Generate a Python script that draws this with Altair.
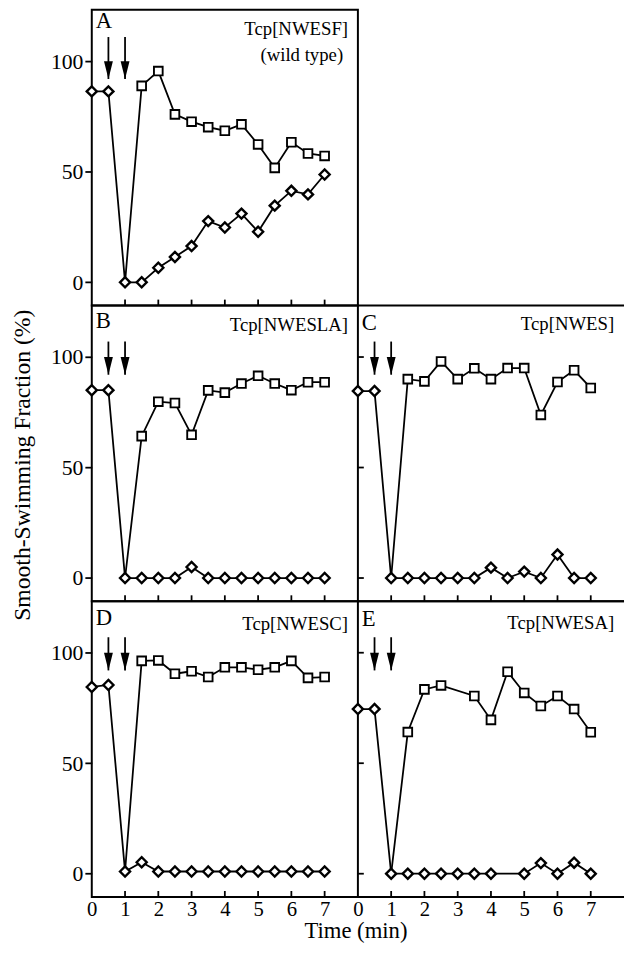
import altair as alt
import pandas as pd

FONT = "Liberation Serif"

# ---- data ----
times = [0, 0.5, 1.0, 1.5, 2.0, 2.5, 3.0, 3.5, 4.0, 4.5, 5.0, 5.5, 6.0, 6.5, 7.0]
sq_times = [1.5, 2.0, 2.5, 3.0, 3.5, 4.0, 4.5, 5.0, 5.5, 6.0, 6.5, 7.0]
arrow_times = [0.5, 1.0]
x_tick_values = [1, 2, 3, 4, 5, 6, 7]
x_label_values = [0, 1, 2, 3, 4, 5, 6, 7]
y_tick_values = [0, 50, 100]

panel_ids = ["A", "B", "C", "D", "E"]
panel_names = ["Tcp[NWESF]", "Tcp[NWESLA]", "Tcp[NWES]", "Tcp[NWESC]", "Tcp[NWESA]"]
subtitle_A = "(wild type)"

dia_A = [86.4, 86.4, 0, 0, 6.6, 11.5, 16.4, 27.7, 24.8, 31.1, 22.9, 34.7, 41.4, 39.8, 48.8]
sq_A = [88.9, 95.6, 76.0, 72.7, 70.2, 68.6, 71.5, 62.4, 51.8, 63.4, 58.3, 57.2]

dia_B = [85.0, 85.0, 0, 0, 0, 0, 5.0, 0, 0, 0, 0, 0, 0, 0, 0]
sq_B = [64.2, 79.8, 79.2, 64.8, 84.9, 83.9, 88.0, 91.5, 88.0, 85.0, 88.6, 88.6]

dia_C = [84.6, 84.6, 0, 0, 0, 0, 0, 0, 4.7, 0, 2.9, 0, 10.6, 0, 0]
sq_C = [90.0, 89.0, 98.0, 90.0, 94.9, 90.0, 95.0, 95.0, 73.8, 88.7, 94.0, 86.0]

dia_D = [84.5, 85.4, 1.0, 5.2, 1.0, 1.0, 1.0, 1.0, 1.0, 1.0, 1.0, 1.0, 1.0, 1.0, 1.0]
sq_D = [96.3, 96.5, 90.5, 91.6, 89.0, 93.4, 93.4, 92.3, 93.4, 96.3, 88.6, 89.0]

dia_E = [74.5, 74.5, 0, 0, 0, 0, 0, 0, 0, None, 0, 4.8, 0, 5.0, 0]
sq_E = [64.1, 83.4, 85.2, None, 80.4, 69.6, 91.4, 81.8, 75.9, 80.4, 74.5, 64.0]

arrow_top = [111, 107, 107, 107, 107]
arrow_tip = 92

Y_DOMAIN = [-10.5, 123.3]
X_DOMAIN = [0, 8]
H = 300
W = 270

ARROW_HEAD = "M-0.5,-2 L0.5,-2 L0,0 Z"

one = pd.DataFrame({"a": [0]})


def label(text, x, y, size, align="left", baseline="middle", angle=0):
    kw = dict(text=text, font=FONT, fontSize=size, align=align, baseline=baseline,
              color="black", fontWeight="normal")
    if angle:
        kw["angle"] = angle
    return alt.Chart(one).mark_text(**kw).encode(x=alt.value(x), y=alt.value(y))


def panel(idx, dia, sq, left_col, bottom_row, letter_y, name_y, extra=None):
    pid = panel_ids[idx]
    name = panel_names[idx]
    xs = alt.Scale(domain=X_DOMAIN, nice=False, zero=False)
    ys = alt.Scale(domain=Y_DOMAIN, nice=False, zero=False)

    if bottom_row:
        xaxis = alt.Axis(values=x_label_values, ticks=False, domain=False, grid=False,
                         labels=True, labelFont=FONT, labelFontSize=21, labelColor="black",
                         labelPadding=2, labelFlush=False, title=None)
    else:
        xaxis = None
    if left_col:
        yaxis = alt.Axis(values=y_tick_values, tickSize=7, tickWidth=1.8, tickColor="black",
                         domain=False, grid=False, labelFont=FONT, labelFontSize=22,
                         labelColor="black", labelPadding=2, title=None)
    else:
        yaxis = None

    def X(f):
        return alt.X(f, type="quantitative", scale=xs, axis=xaxis)

    def Y(f):
        return alt.Y(f, type="quantitative", scale=ys, axis=yaxis)

    dia_df = pd.DataFrame({"t": times, "v": dia}).dropna()
    sq_df = pd.DataFrame({"t": sq_times, "v": sq}).dropna()
    sq_line_df = pd.concat([pd.DataFrame({"t": [times[2]], "v": [dia[2]]}), sq_df])

    base_line = dict(color="black", strokeWidth=1.8)
    layers = [
        alt.Chart(dia_df).mark_line(**base_line).encode(x=X("t"), y=Y("v")),
        alt.Chart(sq_line_df).mark_line(**base_line).encode(x=X("t"), y=Y("v")),
        alt.Chart(sq_df).mark_point(shape="square", filled=True, fill="white", stroke="black",
                                    strokeWidth=1.9, size=78, opacity=1).encode(x=X("t"), y=Y("v")),
        alt.Chart(dia_df).mark_point(shape="diamond", filled=True, fill="white", stroke="black",
                                     strokeWidth=2.4, size=105, opacity=1).encode(x=X("t"), y=Y("v")),
    ]

    arr_df = pd.DataFrame({"t": arrow_times, "top": [arrow_top[idx]] * 2, "tip": [arrow_tip] * 2})
    layers.append(alt.Chart(arr_df).mark_rule(color="black", strokeWidth=1.8).encode(
        x=X("t"), y=Y("top"), y2=alt.Y2("tip")))
    layers.append(alt.Chart(arr_df).mark_point(shape=ARROW_HEAD, filled=True, color="black",
                                               size=324, opacity=1).encode(x=X("t"), y=Y("tip")))

    # inward x ticks at the bottom of each panel
    xt_df = pd.DataFrame({"t": x_tick_values})
    layers.append(alt.Chart(xt_df).mark_rule(color="black", strokeWidth=1.8).encode(
        x=X("t"), y=alt.value(H), y2=alt.value(H - 6)))

    if not left_col:
        yt_df = pd.DataFrame({"v": y_tick_values})
        layers.append(alt.Chart(yt_df).mark_rule(color="black", strokeWidth=1.8).encode(
            y=Y("v"), x=alt.value(0), x2=alt.value(6)))
        for yy in (0, H):
            layers.append(alt.Chart(one).mark_rule(color="black", strokeWidth=2).encode(
                x=alt.value(0), x2=alt.value(W), y=alt.value(yy)))

    layers.append(label(pid, 4, letter_y, 23))
    layers.append(label(name, W - 10, name_y, 19, align="right"))
    if extra:
        layers.extend(extra)

    view = alt.ViewBackground(stroke="black", strokeWidth=2) if left_col else \
        alt.ViewBackground(stroke="transparent", strokeWidth=0)
    return alt.layer(*layers).properties(width=W, height=H, view=view)


extra_A = [label(subtitle_A, W - 15, 46, 19, align="right")]
extra_B = [label("Smooth-Swimming Fraction (%)", -70, 162, 24, align="center", angle=270)]
extra_D = [label("Time (min)", W - 2, H + 42, 23, align="center", baseline="alphabetic")]

pA = panel(0, dia_A, sq_A, True, False, 11, 20, extra_A)
pB = panel(1, dia_B, sq_B, True, False, 16, 20, extra_B)
pC = panel(2, dia_C, sq_C, False, False, 18, 19)
pD = panel(3, dia_D, sq_D, True, True, 17, 23, extra_D)
pE = panel(4, dia_E, sq_E, False, True, 18, 22)

blank = alt.Chart(one).mark_point(opacity=0, size=1).encode(
    x=alt.value(10), y=alt.value(10)).properties(
    width=W, height=H, view=alt.ViewBackground(stroke="transparent", strokeWidth=0))

chart = alt.concat(pA, blank, pB, pC, pD, pE, columns=2, spacing=0, bounds="flush").properties(
    padding={"left": 1, "top": -6, "right": 0, "bottom": 0}
).configure(font=FONT, background="white")

chart.save("out.html", embed_options={"renderer": "svg", "actions": False})
